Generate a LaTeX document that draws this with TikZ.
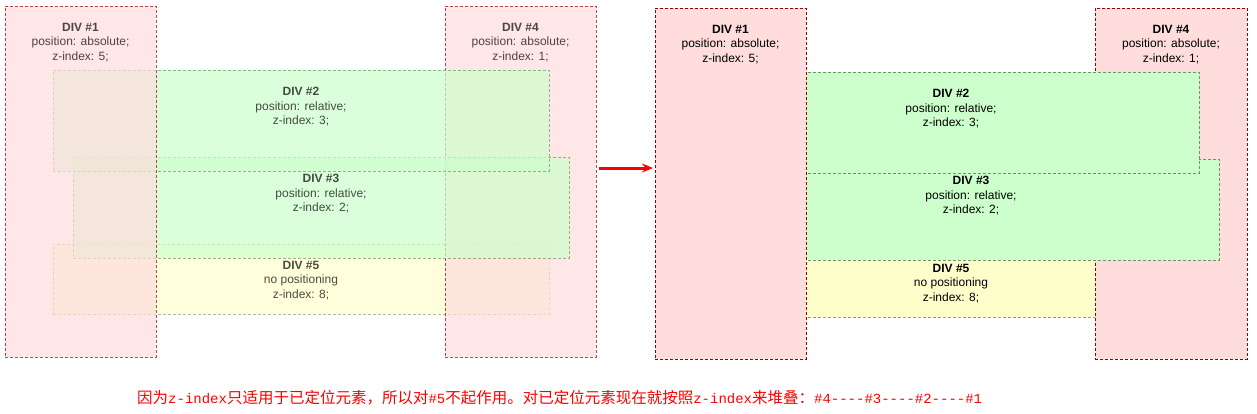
\documentclass[tikz,border=0pt]{standalone}
\usepackage{fontspec}
\setmainfont{Liberation Sans}
\newfontfamily\cjkfont{Noto Sans CJK SC}
\newfontfamily\codefont{Liberation Mono}
\usepackage{tikz}
\usetikzlibrary{arrows.meta,positioning}
\definecolor{divred}{HTML}{FFDDDD}
\definecolor{divredline}{HTML}{990000}
\definecolor{divgreen}{HTML}{CCFFCC}
\definecolor{divgreenline}{HTML}{669966}
\definecolor{divyellow}{HTML}{FFFFCC}
\definecolor{divyellowline}{HTML}{999977}
\newcommand{\cd}[1]{{\codefont\fontsize{14}{18}\selectfont #1}}
\tikzset{
  divbox/.style={anchor=north west,inner sep=0pt,outer sep=0pt,line width=1pt,
                 dash pattern=on 3pt off 2pt},
  redbox/.style={divbox,fill=divred,draw=divredline,
                 minimum width=151pt,minimum height=351pt},
  grnbox/.style={divbox,fill=divgreen,draw=divgreenline,
                 minimum width=496pt,minimum height=101pt},
  ylwbox/.style={divbox,fill=divyellow,draw=divyellowline,
                 minimum width=496pt,minimum height=70pt},
  txt/.style={anchor=north,inner sep=0pt,align=center,
              font=\fontsize{12}{14.5}\selectfont},
  arr/.style={-{Stealth[length=11pt,width=9pt]},line width=3pt,red},
  note/.style={anchor=west,inner sep=0pt,text=red,
               font=\cjkfont\fontsize{15.5}{18}\selectfont},
}
\begin{document}
\begin{tikzpicture}[x=1pt,y=-1pt]
\useasboundingbox (0,0) rectangle (1257,413);
% left: translucent view
\begin{scope}[opacity=0.7]
\node[ylwbox] (L5) at (53,244) {};
\node[txt] (L5t) at ([yshift=-17pt]L5.north) {\textbf{DIV \#5}\\no positioning\\z-index: 8;};
\node[redbox] (L4) at (445,6) {};
\node[txt] (L4t) at ([yshift=-17pt]L4.north) {\textbf{DIV \#4}\\position: absolute;\\z-index: 1;};
\node[grnbox] (L3) at (73,157) {};
\node[txt] (L3t) at ([yshift=-17pt]L3.north) {\textbf{DIV \#3}\\position: relative;\\z-index: 2;};
\node[grnbox] (L2) at (53,70) {};
\node[txt] (L2t) at ([yshift=-17pt]L2.north) {\textbf{DIV \#2}\\position: relative;\\z-index: 3;};
\node[redbox] (L1) at (5,6) {};
\node[txt] (L1t) at ([yshift=-17pt]L1.north) {\textbf{DIV \#1}\\position: absolute;\\z-index: 5;};
\end{scope}
% arrow
\coordinate (arrS) at (599,168);
\coordinate (arrE) at (653,168);
\draw[arr] (arrS) -- (arrE);
% right: actual stacking
\node[ylwbox] (R5) at (703,247) {};
\node[txt] (R5t) at ([yshift=-17pt]R5.north) {\textbf{DIV \#5}\\no positioning\\z-index: 8;};
\node[redbox,minimum width=152pt] (R4) at (1095,8) {};
\node[txt] (R4t) at ([yshift=-17pt]R4.north) {\textbf{DIV \#4}\\position: absolute;\\z-index: 1;};
\node[grnbox] (R3) at (723,159) {};
\node[txt] (R3t) at ([yshift=-17pt]R3.north) {\textbf{DIV \#3}\\position: relative;\\z-index: 2;};
\node[grnbox] (R2) at (703,72) {};
\node[txt] (R2t) at ([yshift=-17pt]R2.north) {\textbf{DIV \#2}\\position: relative;\\z-index: 3;};
\node[redbox] (R1) at (655,8) {};
\node[txt] (R1t) at ([yshift=-17pt]R1.north) {\textbf{DIV \#1}\\position: absolute;\\z-index: 5;};
% note
\node[note] (nt) at (137,398) {因为\cd{z-index}只适用于已定位元素，所以对\cd{\#5}不起作用。对已定位元素现在就按照\cd{z-index}来堆叠：\cd{\#4----\#3----\#2----\#1}};
\end{tikzpicture}
\end{document}
